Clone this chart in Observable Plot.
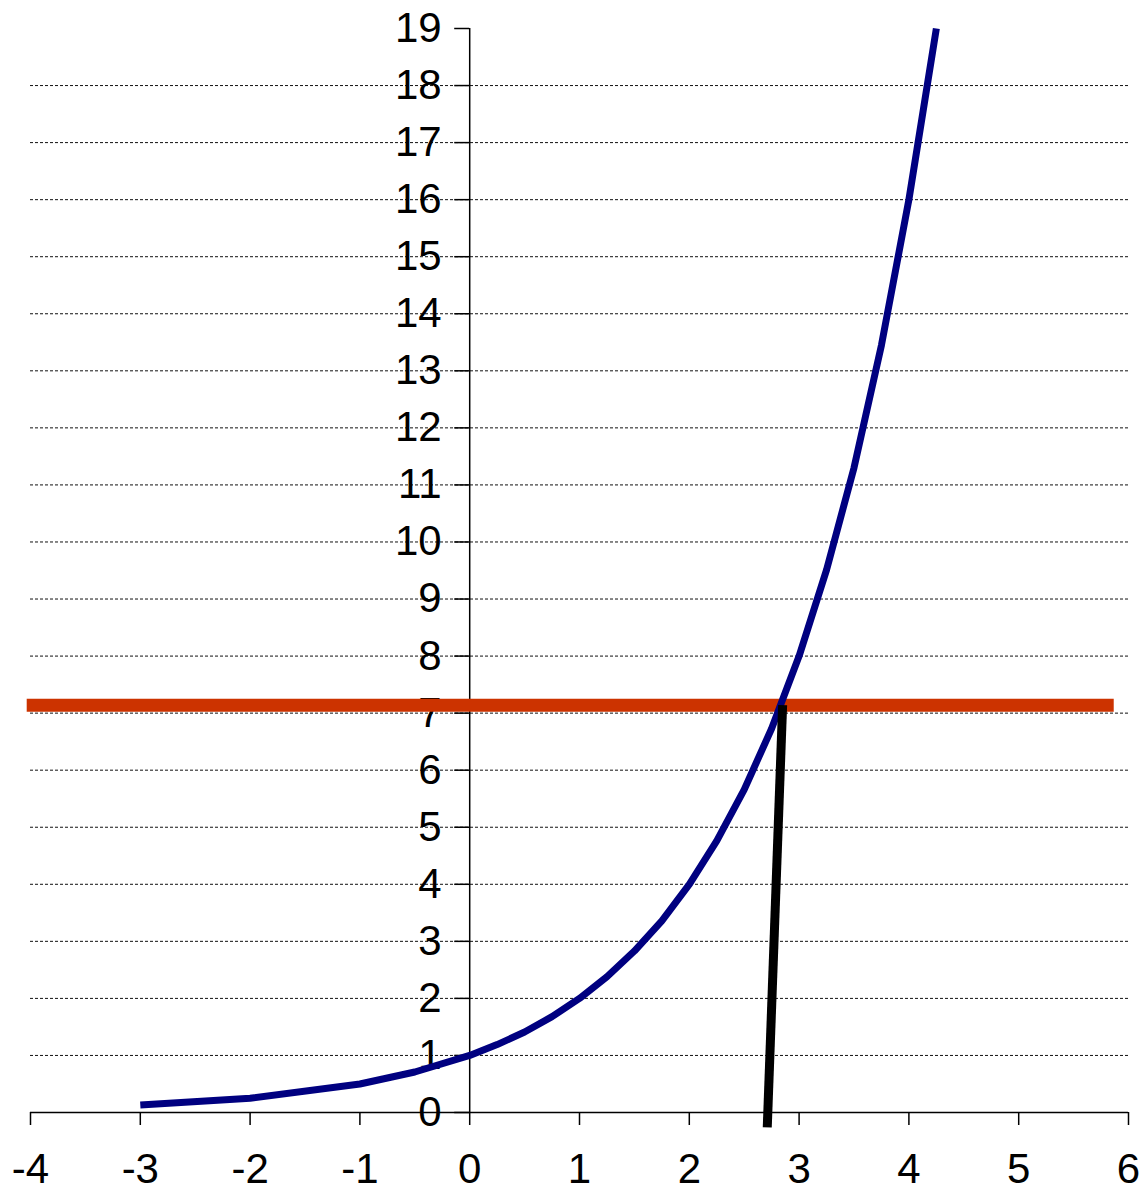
<!DOCTYPE html>
<html>
<head>
<meta charset="utf-8">
<script src="https://cdn.jsdelivr.net/npm/d3@7"></script>
<script src="https://cdn.jsdelivr.net/npm/@observablehq/plot@0.6"></script>
<style>
  html, body { margin: 0; padding: 0; background: #ffffff; }
  #chart svg { display: block; }
</style>
</head>
<body>
<div id="chart"></div>
<script>
// Curve y = 2^x
const curveX = [-3, -2, -1, -0.5, 0, 0.25, 0.5, 0.75, 1, 1.25, 1.5, 1.75, 2, 2.25, 2.5, 2.75, 3, 3.25, 3.5, 3.75, 4, 4.25];
const curveY = [0.13, 0.25, 0.5, 0.71, 1, 1.19, 1.41, 1.68, 2, 2.38, 2.83, 3.36, 4, 4.76, 5.66, 6.73, 8, 9.51, 11.3, 13.45, 16, 19.0];

// Horizontal level line (y ≈ 7.14)
const levelY = [7.14];
const levelX = [-4.03, 5.87];

// Black solution line
const solX = [2.85, 2.71];
const solY = [7.14, -0.26];

// Axis ticks / labels
const xTicks = [-4, -3, -2, -1, 0, 1, 2, 3, 4, 5, 6];
const yTicks = [0, 1, 2, 3, 4, 5, 6, 7, 8, 9, 10, 11, 12, 13, 14, 15, 16, 17, 18, 19];
const gridYs = [1, 2, 3, 4, 5, 6, 7, 8, 9, 10, 11, 12, 13, 14, 15, 16, 17, 18];

const curve = curveX.map((x, i) => ({x, y: curveY[i]}));
const sol = solX.map((x, i) => ({x, y: solY[i]}));

const W = 1143, H = 1201;
const mL = 30, mR = 15, mT = 28, mB = 89;
const xDomain = [-4, 6], yDomain = [0, 19];
const unitsPerPx = (xDomain[1] - xDomain[0]) / (W - mL - mR);
const yTickLen = 15 * unitsPerPx;

const plot = Plot.plot({
  width: W,
  height: H,
  marginLeft: mL,
  marginRight: mR,
  marginTop: mT,
  marginBottom: mB,
  style: {fontFamily: "'Liberation Sans', Arial, sans-serif", fontSize: "42px", background: "#ffffff", overflow: "visible"},
  x: {domain: xDomain, axis: null},
  y: {domain: yDomain, axis: null},
  marks: [
    // dashed gridlines
    Plot.ruleY(gridYs, {y: d => d, x1: -4, x2: 6, stroke: "#111", strokeWidth: 1, strokeDasharray: "3,2"}),
    // x axis line + ticks + labels
    Plot.ruleY([0], {x1: -4, x2: 6, stroke: "#000", strokeWidth: 1.5}),
    Plot.axisX({ticks: xTicks, tickSize: 13, tickPadding: 28, tickFormat: d => String(d), fontSize: 42, stroke: "#000", fill: "#000", strokeWidth: 1.5, label: null}),
    // y axis line + ticks + labels at x = 0
    Plot.ruleX([0], {y1: 0, y2: 19, stroke: "#000", strokeWidth: 1.5}),
    Plot.ruleY(yTicks, {y: d => d, x1: -yTickLen, x2: 0, stroke: "#000", strokeWidth: 1.5}),
    Plot.text(yTicks, {x: 0, y: d => d, text: d => String(d), textAnchor: "end", dx: -28, fontSize: 42, fill: "#000"}),
    // red level line
    Plot.ruleY(levelY, {y: d => d, x1: levelX[0], x2: levelX[1], stroke: "#cc3300", strokeWidth: 13}),
    // blue curve
    Plot.line(curve, {x: "x", y: "y", stroke: "#000080", strokeWidth: 7, strokeLinejoin: "round", strokeLinecap: "butt"}),
    // black solution line
    Plot.line(sol, {x: "x", y: "y", stroke: "#000", strokeWidth: 9, strokeLinecap: "butt"})
  ]
});

document.getElementById("chart").appendChild(plot);
</script>
</body>
</html>
